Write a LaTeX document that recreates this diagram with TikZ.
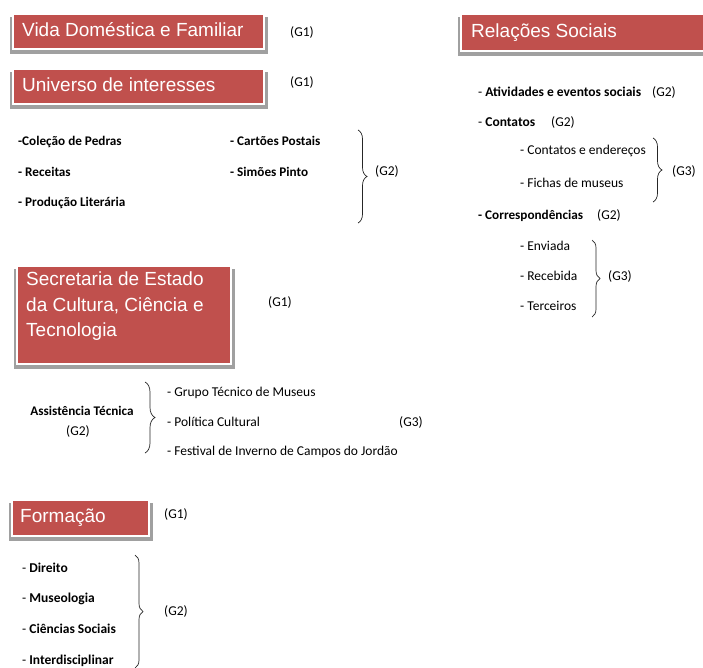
\documentclass[tikz,border=0pt]{standalone}
\usepackage{fontspec}
\setmainfont{Carlito}
\newfontfamily\boxfont{Liberation Sans}
\usetikzlibrary{decorations.pathreplacing,backgrounds}
\definecolor{boxred}{HTML}{C0504D}
\definecolor{shadowgray}{HTML}{A0A0A0}
\tikzset{
  redbox/.style={fill=boxred, draw=white, line width=1.5pt, anchor=north west, inner sep=0pt},
  boxtext/.style={text=white, inner sep=0pt, anchor=west, font=\boxfont\fontsize{19}{25.5}\selectfont, text height=14pt, text depth=4pt},
  item/.style={anchor=west, inner sep=0pt, font=\fontsize{13.5}{15}\selectfont, text height=9pt, text depth=3pt},
  bitem/.style={item, font=\fontsize{13.2}{15}\selectfont\bfseries},
  glab/.style={inner sep=0pt, font=\fontsize{13.5}{15}\selectfont, text height=9pt, text depth=3pt},
  brc/.style={decorate, decoration={brace, amplitude=#1}, line width=0.7pt, draw=black!85},
  brc/.default=9pt
}
\begin{document}
\begin{tikzpicture}[x=1pt, y=-1pt]
\useasboundingbox (0,0) rectangle (703,667);

% ---------- boxes ----------
\node[redbox, minimum width=251, minimum height=35] (vida) at (12,13) {};
\node[boxtext] (vidat) at ([xshift=10pt]vida.west) {Vida Doméstica e Familiar};
\node[redbox, minimum width=251, minimum height=35] (univ) at (12,68) {};
\node[boxtext] (univt) at ([xshift=10pt]univ.west) {Universo de interesses};
\node[redbox, minimum width=260, minimum height=37] (rel) at (460,13) {};
\node[boxtext] (relt) at ([xshift=11pt]rel.west) {Relações Sociais};
\node[redbox, minimum width=214, minimum height=98] (sec) at (16,265) {};
\node[text=white, inner sep=0pt, anchor=north west, align=left, font=\boxfont\fontsize{19}{25.5}\selectfont] (sect) at (26,272) {Secretaria de Estado\\da Cultura, Ciência e\\Tecnologia};
\node[redbox, minimum width=137, minimum height=36] (form) at (11,499) {};
\node[boxtext] (formt) at ([xshift=9pt]form.west) {Formação};

\begin{scope}[on background layer]
\foreach \b in {vida,univ,rel,sec,form}
  \fill[shadowgray] ([xshift=-2pt,yshift=-4pt]\b.north west) rectangle ([xshift=3pt,yshift=-4pt]\b.south east);
\end{scope}

% ---------- G1 labels ----------
\node[glab] (g1a) at (302,33) {(G1)};
\node[glab] (g1b) at (302,83) {(G1)};
\node[glab] (g1c) at (280,303) {(G1)};
\node[glab] (g1d) at (176,515) {(G1)};

% ---------- Universo de interesses ----------
\node[bitem] (u1) at (18,142) {-Coleção de Pedras};
\node[bitem] (u2) at (18,173) {- Receitas};
\node[bitem] (u3) at (18,203) {- Produção Literária};
\node[bitem] (u4) at (230,142) {- Cartões Postais};
\node[bitem] (u5) at (230,173) {- Simões Pinto};
\coordinate (ub1) at (358,130);
\coordinate (ub2) at (358,223);
\draw[brc=9pt] (ub1) -- (ub2);
\node[glab] (ug2) at (387,172) {(G2)};

% ---------- Secretaria ----------
\node[glab, font=\fontsize{13.2}{15}\selectfont\bfseries] (at) at (82,412) {Assistência Técnica};
\node[glab] (atg) at (78,432) {(G2)};
\coordinate (sb1) at (145,382);
\coordinate (sb2) at (145,453);
\draw[brc=10pt] (sb1) -- (sb2);
\node[item] (s1) at (167,393) {- Grupo Técnico de Museus};
\node[item] (s2) at (167,423) {- Política Cultural};
\node[item] (s3) at (167,452) {- Festival de Inverno de Campos do Jordão};
\node[glab] (sg3) at (411,423) {(G3)};

% ---------- Formação ----------
\node[item] (f1) at (22,569) {- \textbf{Direito}};
\node[item] (f2) at (22,599) {- \textbf{Museologia}};
\node[item] (f3) at (22,630) {- \textbf{Ciências Sociais}};
\node[item] (f4) at (22,661) {- \textbf{Interdisciplinar}};
\coordinate (fb1) at (135,555);
\coordinate (fb2) at (135,668);
\draw[brc=8pt] (fb1) -- (fb2);
\node[glab] (fg2) at (176,612) {(G2)};

% ---------- Relações Sociais ----------
\node[item] (r1) at (478,93) {- \textbf{Atividades e eventos sociais}};
\node[glab] (r1g) at (664,93) {(G2)};
\node[item] (r2) at (478,123) {- \textbf{Contatos}};
\node[glab] (r2g) at (563,123) {(G2)};
\node[item] (r21) at (520,151) {- Contatos e endereços};
\node[item] (r22) at (520,184) {- Fichas de museus};
\coordinate (rb1) at (653,138);
\coordinate (rb2) at (653,202);
\draw[brc=9pt] (rb1) -- (rb2);
\node[glab] (r2g3) at (684,172) {(G3)};
\node[bitem] (r3) at (478,216) {- Correspondências};
\node[glab] (r3g) at (609,216) {(G2)};
\node[item] (r31) at (520,247) {- Enviada};
\node[item] (r32) at (520,277) {- Recebida};
\node[item] (r33) at (520,307) {- Terceiros};
\coordinate (cb1) at (592,240);
\coordinate (cb2) at (592,317);
\draw[brc=8pt] (cb1) -- (cb2);
\node[glab] (r3g3) at (620,277) {(G3)};
\end{tikzpicture}
\end{document}
